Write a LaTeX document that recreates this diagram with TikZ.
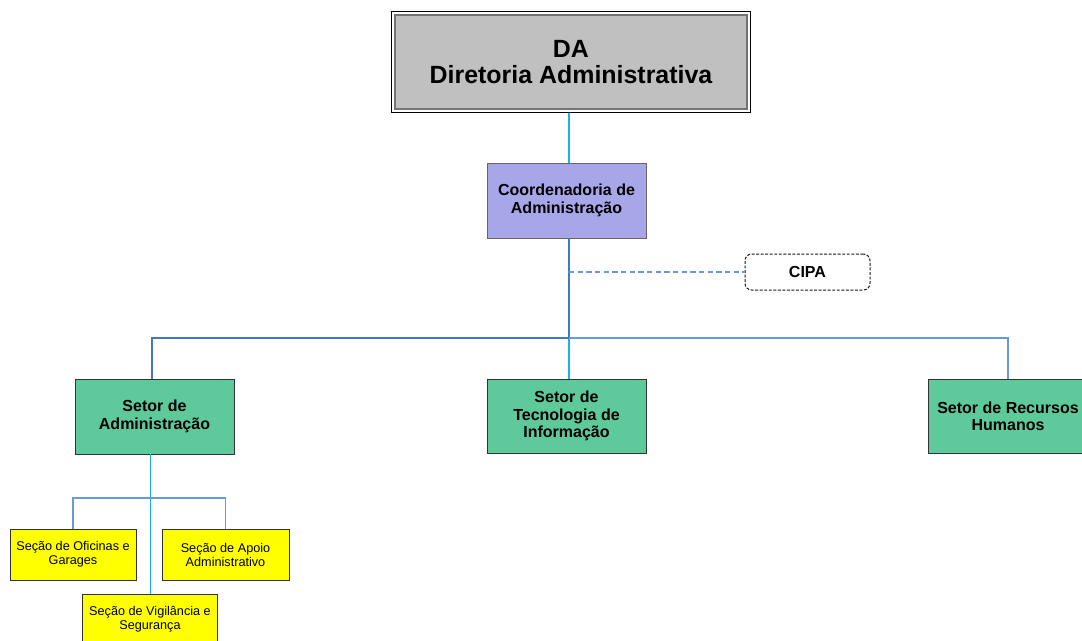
\documentclass[tikz,border=0pt]{standalone}
\usepackage{fontspec}
\setmainfont{Liberation Sans}
\usetikzlibrary{calc}
\definecolor{linecyan}{RGB}{20,178,242}
\definecolor{lineblue}{RGB}{66,118,205}
\definecolor{linelight}{RGB}{104,152,226}
\definecolor{daGray}{RGB}{192,192,192}
\definecolor{coordFill}{RGB}{166,166,232}
\definecolor{setorFill}{RGB}{94,201,155}
\definecolor{secFill}{RGB}{255,255,0}
\tikzset{
  box/.style={draw=black!80, line width=0.6pt, align=center, inner sep=0pt},
  setor/.style={box, fill=setorFill, minimum width={159*0.75pt}, minimum height={75*0.75pt},
    font=\bfseries\fontsize{12}{13}\selectfont},
  secao/.style={box, fill=secFill, minimum height={51*0.75pt},
    font=\fontsize{9.5}{10.5}\selectfont},
  cyanline/.style={draw=linecyan, line width=1pt},
  blueline/.style={draw=lineblue, line width=1pt},
  lightline/.style={draw=linelight, line width=1pt},
}
\begin{document}
\begin{tikzpicture}[x=0.75pt, y=-0.75pt]
\useasboundingbox (0,0) rectangle (1082,640);
\fill[white] (0,0) rectangle (1082,640);

% main spine position
\coordinate (spine) at (569,0);
\coordinate (hub) at (569,338);

% boxes
\node[box, draw=black!55, line width=0.9pt, fill=daGray, minimum width={352*0.75pt}, minimum height={94*0.75pt},
  font=\bfseries\fontsize{18.7}{20}\selectfont] (da) at (571,62) {DA\\Diretoria Administrativa};
\draw[black, line width=0.7pt] ([shift={(-3,-3)}]da.north west) rectangle ([shift={(3,3)}]da.south east);

\node[box, draw=black!60, fill=coordFill, minimum width={159*0.75pt}, minimum height={75*0.75pt},
  font=\bfseries\fontsize{12}{13}\selectfont] (coord) at (566.5,200.5) {Coordenadoria de\\Administração};

\node[box, draw=black!90, line width=0.75pt, dash pattern=on 2.2pt off 1.2pt, rounded corners=5pt,
  minimum width={125*0.75pt}, minimum height={36*0.75pt},
  font=\bfseries\fontsize{12}{13}\selectfont] (cipa) at (807.5,272) {CIPA};

\node[setor] (sadm) at (154.5,416.5) {Setor de\\Administração};
\node[setor, minimum height={74*0.75pt}] (sti) at (566.5,416) {Setor de\\Tecnologia de\\Informação};
\node[setor, minimum height={74*0.75pt}] (srh) at (1008,416) {Setor de Recursos\\Humanos};

\node[secao, minimum width={126*0.75pt}] (sof) at (73,554.5) {Seção de Oficinas e\\Garages};
\node[secao, minimum width={127*0.75pt}] (sapo) at (225.5,554.5) {Seção de Apoio\\Administrativo};
\node[secao, minimum width={135*0.75pt}] (svig) at (150,619.5) {Seção de Vigilância e\\Segurança};

% connectors
\draw[cyanline] ([yshift=-2.6pt]da.south -| spine) -- (coord.north -| spine);
\draw[blueline] (coord.south -| spine) -- (hub);
\draw[cyanline] (hub) -- (sti.north -| spine);
\draw[blueline] (hub) -| ($(sadm.north)+(-2.5,0)$);
\draw[lightline] (hub) -| (srh.north);
\draw[lightline, dash pattern=on 4pt off 2.5pt] (cipa.west -| spine) -- (cipa.west);

\coordinate (branch) at (150.5,498);
\draw[cyanline] (sadm.south -| branch) -- (svig.north -| branch);
\draw[lightline] (branch) -| (sof.north);
\draw[lightline] (branch) -| (sapo.north);
\end{tikzpicture}
\end{document}
